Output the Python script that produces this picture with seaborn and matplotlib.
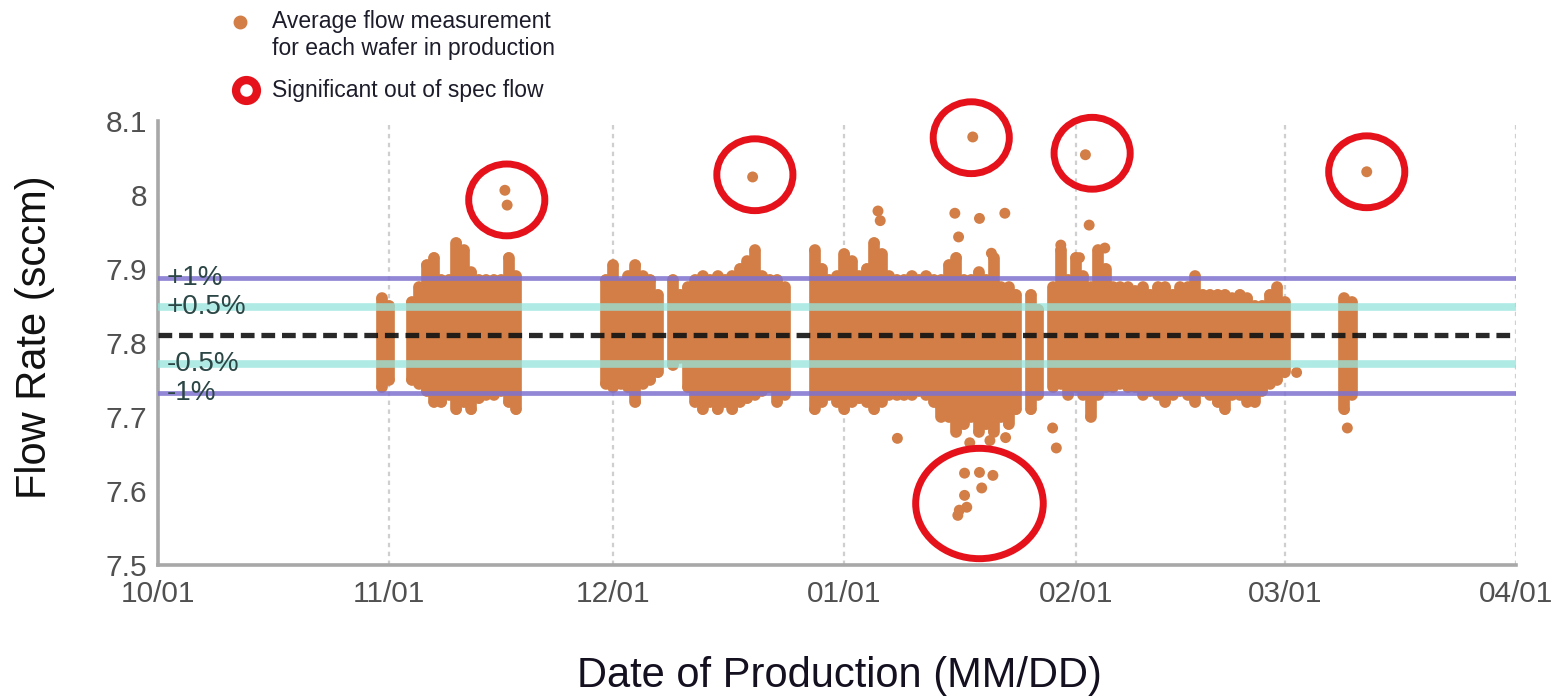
import pandas as pd
import matplotlib
matplotlib.use("Agg")
import matplotlib.pyplot as plt
import matplotlib.dates as mdates
from matplotlib.lines import Line2D
from matplotlib.patches import Ellipse
import seaborn as sns

# ---------------------------------------------------------------- data
season_start = pd.Timestamp("2014-10-01")
season_end = pd.Timestamp("2015-04-01")

# production days (days after 10/01) and the daily spread of wafer averages
prod_days = [30, 31,
             34, 35, 36, 37, 38, 39, 40, 41, 42, 43, 44, 45, 46, 47, 48,
             60, 61, 62, 63, 64, 65, 66, 67, 69, 70,
             71, 72, 73, 74, 75, 76, 77, 78, 79, 80, 81, 82, 83, 84,
             88, 89, 90, 91, 92, 93, 94, 95, 96, 97, 98, 99, 100, 101, 102, 103, 104, 105,
             106, 107, 108, 109, 110, 111, 112, 113, 114, 115,
             117, 118,
             120, 121, 122, 123, 124, 125, 126, 127, 128, 129, 130, 131, 132, 133, 134, 135,
             136, 137, 138, 139, 140, 141, 142, 143, 144, 145, 146, 147, 148, 149, 150, 151,
             159, 160]
daily_low = [7.74, 7.75,
             7.75, 7.745, 7.735, 7.72, 7.72, 7.73, 7.71, 7.72, 7.71, 7.725, 7.73, 7.73, 7.735, 7.72, 7.71,
             7.745, 7.74, 7.745, 7.74, 7.72, 7.745, 7.75, 7.76, 7.77, 7.78,
             7.74, 7.72, 7.71, 7.72, 7.71, 7.72, 7.71, 7.72, 7.725, 7.73, 7.735, 7.74, 7.72, 7.73,
             7.71, 7.72, 7.73, 7.72, 7.71, 7.72, 7.725, 7.72, 7.71, 7.72, 7.73, 7.73, 7.73, 7.73, 7.735, 7.73, 7.72, 7.70,
             7.70, 7.68, 7.69, 7.70, 7.68, 7.69, 7.68, 7.70, 7.69, 7.71,
             7.71, 7.73,
             7.74, 7.745, 7.73, 7.74, 7.73, 7.70, 7.73, 7.74, 7.74, 7.745, 7.74, 7.74, 7.73, 7.735, 7.73, 7.72,
             7.73, 7.735, 7.73, 7.72, 7.735, 7.73, 7.72, 7.71, 7.73, 7.73, 7.72, 7.72, 7.735, 7.745, 7.75, 7.76,
             7.71, 7.73]
daily_high = [7.86, 7.85,
              7.855, 7.875, 7.905, 7.915, 7.885, 7.885, 7.935, 7.925, 7.895, 7.885, 7.885, 7.885, 7.885, 7.915, 7.89,
              7.885, 7.905, 7.88, 7.89, 7.905, 7.89, 7.885, 7.865, 7.885, 7.865,
              7.875, 7.885, 7.89, 7.885, 7.89, 7.885, 7.89, 7.9, 7.91, 7.925, 7.89, 7.885, 7.885, 7.875,
              7.925, 7.9, 7.885, 7.89, 7.92, 7.91, 7.89, 7.9, 7.935, 7.92, 7.89, 7.885, 7.885, 7.89, 7.885, 7.89, 7.885, 7.885,
              7.905, 7.915, 7.885, 7.885, 7.895, 7.885, 7.915, 7.875, 7.875, 7.865,
              7.865, 7.845,
              7.875, 7.925, 7.885, 7.915, 7.89, 7.875, 7.925, 7.9, 7.875, 7.875, 7.875, 7.87, 7.875, 7.865, 7.875, 7.875,
              7.865, 7.875, 7.875, 7.89, 7.865, 7.865, 7.865, 7.865, 7.86, 7.865, 7.86, 7.85, 7.85, 7.865, 7.875, 7.855,
              7.86, 7.855]

# isolated wafers away from the daily bulk
single_days = [96.5, 96.8, 99.1, 104.8,
               106.8, 110.1, 113.5, 107.3, 111.7,
               108.8, 111.5, 113.6,
               119.9, 120.4,
               124.8, 126.9, 123.5, 121.0,
               152.6, 159.4]
single_flow = [7.978, 7.965, 7.671, 7.716,
               7.975, 7.968, 7.975, 7.943, 7.921,
               7.665, 7.668, 7.672,
               7.685, 7.658,
               7.959, 7.928, 7.915, 7.932,
               7.760, 7.685]

# significant out-of-spec wafers
oos_days = [46.5, 46.8, 79.7, 109.2, 124.3, 162.0,
            108.1, 110.1, 111.9, 110.4, 108.1, 108.4, 107.4, 107.2]
oos_flow = [8.006, 7.986, 8.024, 8.078, 8.054, 8.031,
            7.624, 7.625, 7.621, 7.604, 7.594, 7.578, 7.574, 7.567]

# centres of the highlight rings
ring_days = [46.75, 80.0, 109.0, 125.2, 162.0]
ring_flow = [7.993, 8.027, 8.077, 8.056, 8.031]
group_ring_day = 110.1
group_ring_flow = 7.583

nominal_flow = 7.81
spec_pct = [1.0, 0.5, -0.5, -1.0]
spec_labels = ["+1%", "+0.5%", "-0.5%", "-1%"]

y_ticks = [7.5, 7.6, 7.7, 7.8, 7.9, 8.0, 8.1]
y_tick_labels = ["7.5", "7.6", "7.7", "7.8", "7.9", "8", "8.1"]

# ---------------------------------------------------------------- style
ORANGE = "#D27E46"
RED = "#E5121B"
PURPLE = "#7E72CF"
CYAN = "#96E4DC"
GRID = "#cfcfcf"
SPINE = "#a8a8a8"

sns.set_theme(style="white")
plt.rcParams["font.family"] = ["Liberation Sans", "DejaVu Sans"]


def to_dates(days):
    return season_start + pd.to_timedelta(pd.Series(days, dtype=float), unit="D")


fig = plt.figure(figsize=(15.59, 7.0), dpi=100)
ax = fig.add_axes([0.1013, 0.1929, 0.8711, 0.6347])

# daily spread of wafer averages
prod_dates = to_dates(prod_days)
ax.vlines(prod_dates, daily_low, daily_high, colors=ORANGE,
          linewidth=8.4, capstyle="round", zorder=2)

pts = pd.DataFrame({
    "date": pd.concat([prod_dates, prod_dates, to_dates(single_days), to_dates(oos_days)],
                      ignore_index=True),
    "flow": list(daily_low) + list(daily_high) + list(single_flow) + list(oos_flow),
})
sns.scatterplot(data=pts, x="date", y="flow", ax=ax, color=ORANGE, s=62,
                linewidth=0, edgecolor="none", legend=False, zorder=3)

# spec limits around the nominal flow
for pct in spec_pct:
    val = nominal_flow * (1 + pct / 100.0)
    if abs(pct) == 0.5:
        ax.axhline(val, color=CYAN, lw=5.5, alpha=0.75, zorder=4)
    else:
        ax.axhline(val, color=PURPLE, lw=3.4, alpha=0.85, zorder=5)
ax.axhline(nominal_flow, color="#111111", lw=3.8, ls=(0, (2.6, 1.3)), alpha=0.9, zorder=6)

ytrans = ax.get_yaxis_transform()
for pct, lab in zip(spec_pct, spec_labels):
    val = nominal_flow * (1 + pct / 100.0)
    ax.text(0.0066, val, lab, transform=ytrans, ha="left", va="center",
            fontsize=20, color="#2c4646", zorder=8)

# highlight rings
for d, f in zip(ring_days, ring_flow):
    xc = mdates.date2num(season_start + pd.Timedelta(days=d))
    ax.add_patch(Ellipse((xc, f), width=10.2, height=0.097, fill=False,
                         edgecolor=RED, lw=5.0, zorder=7, clip_on=False))
xg = mdates.date2num(season_start + pd.Timedelta(days=group_ring_day))
ax.add_patch(Ellipse((xg, group_ring_flow), width=17.1, height=0.149, fill=False,
                     edgecolor=RED, lw=5.0, zorder=7, clip_on=False))

# axes
ax.set_xlim(season_start, season_end)
ax.set_ylim(7.5, 8.1)
ax.xaxis.set_major_locator(mdates.MonthLocator())
ax.xaxis.set_major_formatter(mdates.DateFormatter("%m/%d"))
ax.set_yticks(y_ticks)
ax.set_yticklabels(y_tick_labels)
ax.tick_params(axis="both", direction="in", length=7, width=1.5, color="#9a9a9a",
               labelsize=21.5, labelcolor="#505050")
ax.tick_params(axis="x", pad=11)
ax.tick_params(axis="y", pad=8)
ax.grid(axis="x", color=GRID, lw=1.6, ls=(0, (2, 2)))
ax.grid(axis="y", visible=False)
for side in ("top", "right"):
    ax.spines[side].set_visible(False)
for side in ("left", "bottom"):
    ax.spines[side].set_color(SPINE)
    ax.spines[side].set_linewidth(2.6)

ax.set_ylabel("Flow Rate (sccm)", fontsize=30, color="#111111")
ax.yaxis.set_label_coords(-0.076, 0.512)
ax.set_xlabel("Date of Production (MM/DD)", fontsize=30, color="#141020")
ax.xaxis.set_label_coords(0.502, -0.205)

# key above the plot
W, H = 1559.0, 700.0
fig.add_artist(Line2D([240 / W], [1 - 22 / H], transform=fig.transFigure,
                      marker="o", ms=9, color=ORANGE, lw=0))
fig.text(272 / W, 1 - 35 / H, "Average flow measurement\nfor each wafer in production",
         ha="left", va="center", fontsize=16.5, color="#1c1c2a", linespacing=1.25)
fig.add_artist(Line2D([246 / W], [1 - 90 / H], transform=fig.transFigure,
                      marker="o", ms=15, mfc="white", mec=RED, mew=6.0, lw=0))
fig.text(272 / W, 1 - 90 / H, "Significant out of spec flow",
         ha="left", va="center", fontsize=16.5, color="#1c1c2a")

fig.savefig("out.png", dpi=100, facecolor="white")
